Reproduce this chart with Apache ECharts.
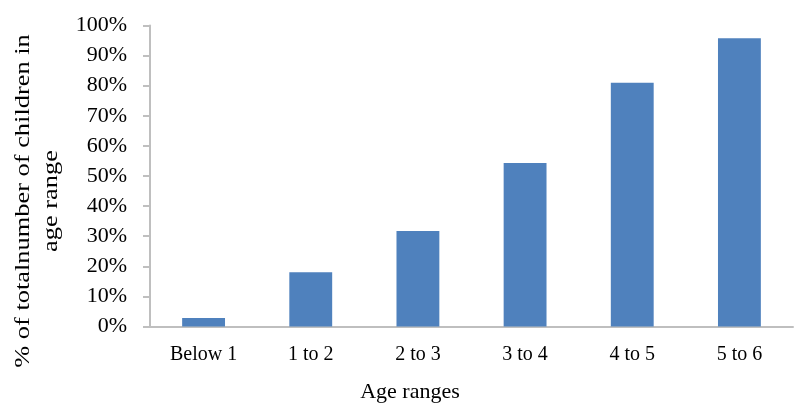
<!DOCTYPE html>
<html>
<head>
<meta charset="utf-8">
<script src="https://cdn.jsdelivr.net/npm/echarts@6/dist/echarts.min.js"></script>
<style>
html,body{margin:0;padding:0;background:#fff;}
#chart{width:795px;height:404px;}
</style>
</head>
<body>
<div id="chart"></div>
<script>
const categories = ['Below 1', '1 to 2', '2 to 3', '3 to 4', '4 to 5', '5 to 6'];
const values = [2.8, 18, 31.7, 54.3, 81, 95.8];
const yTitleLines = ['% of totalnumber of children in', 'age range'];
const xTitle = 'Age ranges';

const font = '"Liberation Serif", "Times New Roman", serif';
const chart = echarts.init(document.getElementById('chart'), null, {renderer: 'canvas'});
chart.setOption({
  animation: false,
  grid: {left: 150, right: 2, top: 25.5, bottom: 77.5, containLabel: false, outerBoundsMode: 'none'},
  xAxis: {
    type: 'category',
    data: categories,
    axisLine: {lineStyle: {color: '#bfbfbf', width: 2}},
    axisTick: {show: false},
    axisLabel: {fontFamily: font, fontSize: 20, color: '#000', margin: 18}
  },
  yAxis: {
    type: 'value',
    min: 0, max: 100, interval: 10,
    axisLine: {show: true, lineStyle: {color: '#bfbfbf', width: 2}},
    axisTick: {show: true, length: 7, lineStyle: {color: '#bfbfbf', width: 2}},
    splitLine: {show: false},
    axisLabel: {fontFamily: font, fontSize: 22, color: '#000', margin: 23, formatter: '{value}%'}
  },
  graphic: [{
    type: 'text',
    x: 37, y: 201,
    rotation: Math.PI / 2,
    scaleX: 1.2,
    style: {
      text: yTitleLines.join('\n'),
      font: '22px ' + font,
      fill: '#000',
      textAlign: 'center',
      textVerticalAlign: 'middle',
      lineHeight: 28
    }
  }, {
    type: 'text',
    x: 410, y: 392,
    style: {
      text: xTitle,
      font: '22px ' + font,
      fill: '#000',
      textAlign: 'center',
      textVerticalAlign: 'middle'
    }
  }],
  series: [{
    type: 'bar',
    data: values,
    barWidth: '40%',
    itemStyle: {color: '#4f81bd'}
  }]
});
</script>
</body>
</html>
